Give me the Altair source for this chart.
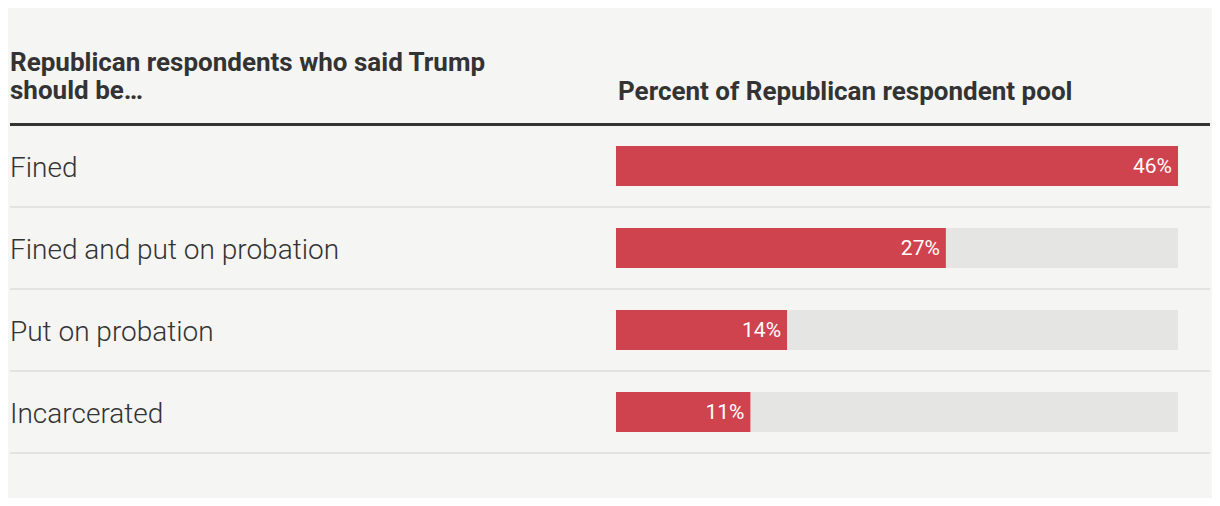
import altair as alt
import pandas as pd

categories = ["Fined", "Fined and put on probation", "Put on probation", "Incarcerated"]
values = [46, 27, 14, 11]
value_labels = ["46%", "27%", "14%", "11%"]
header_left = ["Republican respondents who said Trump", "should be…"]
header_right = ["Percent of Republican respondent pool"]

BG = "#f5f5f3"
RED = "#cf434f"
TRACK = "#e5e5e3"
TEXT = "#333333"

df = pd.DataFrame({
    "cat": categories,
    "value": values,
    "label": value_labels,
    "track": [max(values)] * len(values),
})

y_scale = alt.Scale(range=[117, 445], paddingInner=0, paddingOuter=0)
y_enc = alt.Y("cat:N", sort=categories, axis=None, scale=y_scale)
x_scale = alt.Scale(domain=[0, max(values)], range=[608, 1170], nice=False, zero=True)

base = alt.Chart(df)

track = base.mark_bar(color=TRACK, size=40).encode(
    x=alt.X("track:Q", scale=x_scale, axis=None),
    x2=alt.datum(0),
    y=y_enc,
)
bars = base.mark_bar(color=RED, size=40).encode(
    x=alt.X("value:Q", scale=x_scale, axis=None),
    x2=alt.datum(0),
    y=y_enc,
)
val_text = base.mark_text(
    align="right", baseline="middle", dx=-6, dy=1,
    font="Roboto", fontSize=21, color="white",
).encode(
    x=alt.X("value:Q", scale=x_scale, axis=None),
    y=y_enc,
    text="label:N",
)
row_text = base.mark_text(
    align="left", baseline="middle", dy=3,
    font="Roboto", fontWeight=300, fontSize=28, color=TEXT,
).encode(
    x=alt.value(2),
    y=y_enc,
    text="cat:N",
)
separators = base.mark_rule(color="#e3e3e1", strokeWidth=2).encode(
    x=alt.value(2),
    x2=alt.value(1202),
    y=alt.Y("cat:N", sort=categories, axis=None, scale=y_scale, bandPosition=1),
)

thick = alt.Chart(pd.DataFrame({"k": [0]})).mark_rule(color=TEXT, strokeWidth=3).encode(
    x=alt.value(2), x2=alt.value(1202), y=alt.value(116.5)
)

hl = pd.DataFrame({"t": header_left, "i": [0, 1]})
head_left = alt.Chart(hl).mark_text(
    align="left", baseline="alphabetic", font="Roboto", fontWeight="bold",
    fontSize=26, color=TEXT,
).encode(
    x=alt.value(2),
    y=alt.Y("i:O", axis=None, scale=alt.Scale(type="point", range=[63, 91], padding=0)),
    text="t:N",
)
hr = pd.DataFrame({"t": header_right})
head_right = alt.Chart(hr).mark_text(
    align="left", baseline="alphabetic", font="Roboto", fontWeight="bold",
    fontSize=26, color=TEXT,
).encode(
    x=alt.value(610),
    y=alt.value(92),
    text="t:N",
)

chart = alt.layer(
    track, bars, val_text, row_text, separators, thick, head_left, head_right
).resolve_scale(y="independent").properties(
    width=1204, height=490, autosize=alt.AutoSizeParams(type="none"), padding=0,
    background=BG,
).configure_view(stroke=None)

chart.save("out.html", embed_options={"renderer": "svg", "actions": False})
